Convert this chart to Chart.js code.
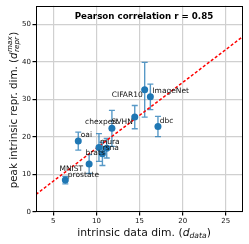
<!DOCTYPE html>
<html>
<head>
<meta charset="utf-8">
<script src="https://cdn.jsdelivr.net/npm/chart.js@4.4.1/dist/chart.umd.min.js"></script>
<style>
html,body{margin:0;padding:0;background:#fff;}
#wrap{width:249px;height:244px;position:relative;}
</style>
</head>
<body>
<div id="wrap"><canvas id="c" width="249" height="244"></canvas></div>
<script>
// ---- data ----
const names   = ['prostate','MNIST','oai','mura','brats','rsna','chexpert','SVHN','CIFAR10','ImageNet','dbc'];
const dataDim = [6.4, 9.16, 7.9, 10.3, 10.7, 11.2, 11.8, 14.45, 15.6, 16.26, 17.14];
const reprDim = [8.5, 12.8, 18.9, 17.2, 15.5, 17.0, 22.3, 25.3, 32.6, 30.7, 22.8];
const reprErr = [1.0, 2.5, 2.4, 3.7, 3.1, 2.6, 4.8, 3.1, 7.3, 3.4, 2.7];
const fitX = [3, 27];
const fitY = [4.7, 46.8];
const xTicks = [5, 10, 15, 20, 25];
const yTicks = [0, 10, 20, 30, 40, 50];
const titleText = 'Pearson correlation r = 0.85';

// label placement (style, not data): [dx, dy, align]
const labelPos = [
  [2.5, -5, 'left'],    // prostate
  [-6, 5.5, 'right'],   // MNIST
  [2.5, -6, 'left'],    // oai
  [1, -5, 'left'],      // mura
  [2.4, -1, 'right'],   // brats
  [-4.2, -0.4, 'left'], // rsna
  [6.4, -6.5, 'right'], // chexpert
  [-2, 4.8, 'right'],   // SVHN
  [-2, 5.7, 'right'],   // CIFAR10
  [2, -6, 'left'],      // ImageNet
  [1.7, -5.6, 'left']   // dbc
];

const FONT = "'DejaVu Sans', sans-serif";
const BLUE = '#1f77b4';

const decor = {
  id: 'decor',
  beforeDatasetsDraw(chart) {
    const ctx = chart.ctx, xs = chart.scales.x, ys = chart.scales.y;
    const a = chart.chartArea;
    ctx.save();
    ctx.beginPath(); ctx.rect(a.left, a.top, a.right - a.left, a.bottom - a.top); ctx.clip();
    ctx.strokeStyle = 'rgba(31,119,180,0.75)';
    ctx.lineWidth = 1.4;
    for (let i = 0; i < dataDim.length; i++) {
      const px = xs.getPixelForValue(dataDim[i]);
      const y1 = ys.getPixelForValue(reprDim[i] + reprErr[i]);
      const y0 = ys.getPixelForValue(reprDim[i] - reprErr[i]);
      ctx.beginPath();
      ctx.moveTo(px, y0); ctx.lineTo(px, y1);
      ctx.moveTo(px - 3, y0); ctx.lineTo(px + 3, y0);
      ctx.moveTo(px - 3, y1); ctx.lineTo(px + 3, y1);
      ctx.stroke();
    }
    ctx.restore();
  },
  afterDatasetsDraw(chart) {
    const ctx = chart.ctx, xs = chart.scales.x, ys = chart.scales.y;
    const a = chart.chartArea;
    ctx.save();
    // point labels
    ctx.fillStyle = '#111';
    ctx.font = '7.5px ' + FONT;
    ctx.textBaseline = 'middle';
    for (let i = 0; i < names.length; i++) {
      const px = xs.getPixelForValue(dataDim[i]);
      const py = ys.getPixelForValue(reprDim[i]);
      const p = labelPos[i];
      ctx.textAlign = p[2];
      ctx.fillText(names[i], px + p[0], py + p[1]);
    }
    // title inside plot
    ctx.font = 'bold 8.7px ' + FONT;
    ctx.textAlign = 'center';
    ctx.fillStyle = '#000';
    ctx.fillText(titleText, (a.left + a.right) / 2 + 4.5, a.top + 11);
    // frame
    ctx.strokeStyle = '#000';
    ctx.lineWidth = 1;
    ctx.strokeRect(Math.round(a.left) + 0.5, Math.round(a.top) + 0.5, Math.round(a.right - a.left) - 1, Math.round(a.bottom - a.top) - 1);
    ctx.restore();
  },
  afterDraw(chart) {
    const ctx = chart.ctx, a = chart.chartArea;
    ctx.save();
    ctx.fillStyle = '#111';
    ctx.textBaseline = 'alphabetic';
    // x label
    const big = 10.8, small = 7.6;
    const segsX = [
      ['intrinsic data dim. (', big + 'px ' + FONT, 0],
      ['d', 'italic ' + big + 'px ' + FONT, 0],
      ['data', 'italic ' + small + 'px ' + FONT, 2.2],
      [')', big + 'px ' + FONT, 0]
    ];
    let tot = 0;
    segsX.forEach(s => { ctx.font = s[1]; tot += ctx.measureText(s[0]).width; });
    let x = 144 - tot / 2;
    const by = 235.5;
    ctx.textAlign = 'left';
    segsX.forEach(s => { ctx.font = s[1]; ctx.fillText(s[0], x, by + s[2]); x += ctx.measureText(s[0]).width; });

    // y label rotated
    ctx.translate(16.5, 110);
    ctx.rotate(-Math.PI / 2);
    const bigY = 10.3, smallY = 7.2;
    const part1 = 'peak intrinsic repr. dim. (';
    ctx.font = bigY + 'px ' + FONT; const w1 = ctx.measureText(part1).width;
    ctx.font = 'italic ' + bigY + 'px ' + FONT; const wd = ctx.measureText('d').width;
    ctx.font = 'italic ' + smallY + 'px ' + FONT;
    const wsup = Math.max(ctx.measureText('max').width, ctx.measureText('repr').width);
    ctx.font = bigY + 'px ' + FONT; const wp = ctx.measureText(')').width;
    const totY = w1 + wd + wsup + 1 + wp;
    let yx = -totY / 2;
    ctx.font = bigY + 'px ' + FONT; ctx.fillText(part1, yx, 0); yx += w1;
    ctx.font = 'italic ' + bigY + 'px ' + FONT; ctx.fillText('d', yx, 0); yx += wd + 0.5;
    ctx.font = 'italic ' + smallY + 'px ' + FONT;
    ctx.fillText('max', yx, -4.5);
    ctx.fillText('repr', yx, 2.8);
    yx += wsup + 0.5;
    ctx.font = bigY + 'px ' + FONT; ctx.fillText(')', yx, 0);
    ctx.restore();
  }
};

new Chart(document.getElementById('c'), {
  type: 'scatter',
  data: {
    datasets: [
      {
        data: fitX.map((v, i) => ({x: v, y: fitY[i]})),
        showLine: true,
        borderColor: '#ff0000',
        borderWidth: 1.5,
        borderDash: [3, 2],
        pointRadius: 0,
        order: 2
      },
      {
        data: dataDim.map((v, i) => ({x: v, y: reprDim[i]})),
        backgroundColor: BLUE,
        borderColor: BLUE,
        borderWidth: 0,
        pointRadius: 3.5,
        order: 1
      }
    ]
  },
  options: {
    responsive: false,
    animation: false,
    devicePixelRatio: 1,
    layout: { padding: { left: 0, right: 6, top: 5, bottom: 0 } },
    plugins: { legend: { display: false }, tooltip: { enabled: false }, title: { display: false } },
    scales: {
      x: {
        type: 'linear', min: 3, max: 27,
        afterBuildTicks: s => { s.ticks = xTicks.map(v => ({value: v})); },
        afterFit: s => { s.height = 32; },
        grid: { color: '#d0d0d0', lineWidth: 1.2, tickColor: '#000', tickLength: 3.5, drawTicks: true },
        border: { display: false },
        ticks: { color: '#111', font: { family: FONT, size: 7 }, padding: 1.5, maxRotation: 0, autoSkip: false }
      },
      y: {
        type: 'linear', min: 0, max: 55,
        afterBuildTicks: s => { s.ticks = yTicks.map(v => ({value: v})); },
        afterFit: s => { s.width = 36; },
        grid: { color: '#d0d0d0', lineWidth: 1.2, tickColor: '#000', tickLength: 3.5, drawTicks: true },
        border: { display: false },
        ticks: { color: '#111', font: { family: FONT, size: 7 }, padding: 1.5, autoSkip: false }
      }
    }
  },
  plugins: [decor]
});
</script>
</body>
</html>
